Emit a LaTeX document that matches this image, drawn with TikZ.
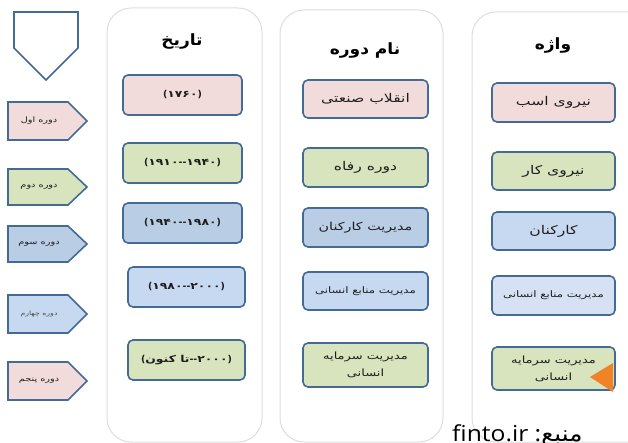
\documentclass[tikz,border=0pt]{standalone}
\usepackage{fontspec}
\setmainfont{DejaVu Sans}
\newfontfamily\fa[Script=Arabic, FakeStretch=1.3]{DejaVu Sans}
\newfontfamily\fah[Script=Arabic, FakeStretch=1.1]{DejaVu Sans}
\newfontfamily\faplain[Script=Arabic, FakeStretch=1.12]{DejaVu Sans}
\newfontfamily\srcfont[FakeStretch=1.12]{Open Sans}
\TeXXeTstate=1
\newcommand\rtl[1]{{\fa\beginR #1\endR}}
\newcommand\pnum[1]{{\fa\bfseries #1}}
\definecolor{bd}{RGB}{68,106,150}
\definecolor{pinkf}{RGB}{242,220,219}
\definecolor{greenf}{RGB}{215,228,189}
\definecolor{bluef}{RGB}{185,205,229}
\definecolor{lbluef}{RGB}{198,217,241}
\definecolor{vlbluef}{RGB}{214,226,243}
\definecolor{panelbd}{RGB}{222,222,222}
\definecolor{orng}{RGB}{240,130,40}
\definecolor{txt}{RGB}{30,30,30}
\tikzset{
  panel/.style={draw=panelbd, line width=1pt, fill=white, rounded corners=24pt},
  boxnode/.style={draw=bd, line width=1.6pt, rounded corners=5pt, inner sep=0pt, align=center, text=txt},
  tagline/.style={draw=bd, line width=1.6pt, line join=miter},
  tagtext/.style={inner sep=0pt, text=txt, font=\fontsize{7.5}{8}\selectfont},
  titletext/.style={inner sep=0pt, text=black, font=\fontsize{15.5}{17}\selectfont\bfseries},
  datefont/.style={font=\fontsize{9.5}{11}\selectfont\bfseries},
  bigfont/.style={font=\fontsize{12}{14}\selectfont},
  smallfont/.style={font=\fontsize{9}{17}\selectfont},
  twofont/.style={font=\fontsize{10}{17}\selectfont}
}
\begin{document}
\begin{tikzpicture}[x=1pt,y=-1pt]
\useasboundingbox (0,0) rectangle (628,443);
\fill[white] (0,0) rectangle (628,443);
% panels
\draw[panel] (107,8) rectangle (262,442);
\draw[panel] (280,10) rectangle (443,442);
\draw[panel] (472,12) rectangle (660,442);
% top pentagon
\draw[tagline, fill=white] (14,12) -- (78,12) -- (78,48) -- (46,80) -- (14,48) -- cycle;
% tags
\draw[tagline, fill=pinkf] (8,102) -- (68,102) -- (87,121) -- (68,140) -- (8,140) -- cycle;
\node[tagtext] (t1) at (39,121) {\rtl{دوره اول}};
\draw[tagline, fill=greenf] (8,169) -- (68,169) -- (87,187) -- (68,205) -- (8,205) -- cycle;
\node[tagtext] (t2) at (39,187) {\rtl{دوره دوم}};
\draw[tagline, fill=bluef] (8,226) -- (68,226) -- (87,244) -- (68,262) -- (8,262) -- cycle;
\node[tagtext] (t3) at (39,244) {\rtl{دوره سوم}};
\draw[tagline, fill=lbluef] (8,295) -- (68,295) -- (87,314) -- (68,333) -- (8,333) -- cycle;
\node[tagtext, font=\fontsize{6}{7}\selectfont, text=black!70] (t4) at (39,314) {\rtl{دوره چهارم}};
\draw[tagline, fill=pinkf] (8,362) -- (68,362) -- (87,381) -- (68,400) -- (8,400) -- cycle;
\node[tagtext] (t5) at (39,381) {\rtl{دوره پنجم}};
% column 1
\node[titletext] (h1) at (182,42) {{\fah\beginR تاریخ\endR}};
\node[boxnode, datefont, fill=pinkf, minimum width=119pt, minimum height=40pt] (a1) at (182.5,95) {(\pnum{۱۷۶۰})};
\node[boxnode, datefont, fill=greenf, minimum width=119pt, minimum height=40pt] (a2) at (182.5,163) {(\pnum{۱۹۱۰}-{}-\pnum{۱۹۴۰})};
\node[boxnode, datefont, fill=bluef, minimum width=119pt, minimum height=40pt] (a3) at (182.5,223) {(\pnum{۱۹۴۰}-{}-\pnum{۱۹۸۰})};
\node[boxnode, datefont, fill=lbluef, minimum width=117pt, minimum height=40pt] (a4) at (186.5,287) {(\pnum{۱۹۸۰}-{}-\pnum{۲۰۰۰})};
\node[boxnode, datefont, fill=greenf, minimum width=117pt, minimum height=40pt] (a5) at (186.5,360) {({\fa\bfseries\beginR تا کنون\endR}-{}-\pnum{۲۰۰۰})};
% column 2
\node[titletext] (h2) at (365,51) {{\fah\beginR نام دوره\endR}};
\node[boxnode, bigfont, fill=pinkf, minimum width=125pt, minimum height=38pt] (b1) at (365.5,99) {\rtl{انقلاب صنعتی}};
\node[boxnode, bigfont, fill=greenf, minimum width=125pt, minimum height=39pt] (b2) at (365.5,167.5) {\rtl{دوره رفاه}};
\node[boxnode, font=\fontsize{11}{13}\selectfont, fill=bluef, minimum width=125pt, minimum height=39pt] (b3) at (365.5,227.5) {\rtl{مدیریت کارکنان}};
\node[boxnode, smallfont, fill=lbluef, minimum width=125pt, minimum height=38pt] (b4) at (365.5,291) {\rtl{مدیریت منابع انسانی}};
\node[boxnode, twofont, fill=greenf, minimum width=125pt, minimum height=44pt] (b5) at (365.5,365) {\rtl{مدیریت سرمایه}\\\rtl{انسانی}};
% column 3
\node[titletext] (h3) at (553,46) {{\fah\beginR واژه\endR}};
\node[boxnode, bigfont, fill=pinkf, minimum width=123pt, minimum height=39pt] (c1) at (553.5,102.5) {\rtl{نیروی اسب}};
\node[boxnode, bigfont, fill=greenf, minimum width=123pt, minimum height=38pt] (c2) at (553.5,171) {\rtl{نیروی کار}};
\node[boxnode, bigfont, fill=lbluef, minimum width=123pt, minimum height=38pt] (c3) at (553.5,231) {\rtl{کارکنان}};
\node[boxnode, smallfont, fill=vlbluef, minimum width=123pt, minimum height=39pt] (c4) at (553.5,295.5) {\rtl{مدیریت منابع انسانی}};
\node[boxnode, twofont, fill=greenf, minimum width=123pt, minimum height=43pt] (c5) at (553.5,368.5) {\rtl{مدیریت سرمایه}\\\rtl{انسانی}};
% orange marker
\fill[orng] (590,377) -- (613,363) -- (613,392) -- cycle;
% source
\node[anchor=base west, inner sep=0pt, font=\fontsize{22}{24}\selectfont, text=black] (src) at (452,441) {\srcfont finto.ir :{\faplain\beginR منبع\endR}};
\end{tikzpicture}
\end{document}
